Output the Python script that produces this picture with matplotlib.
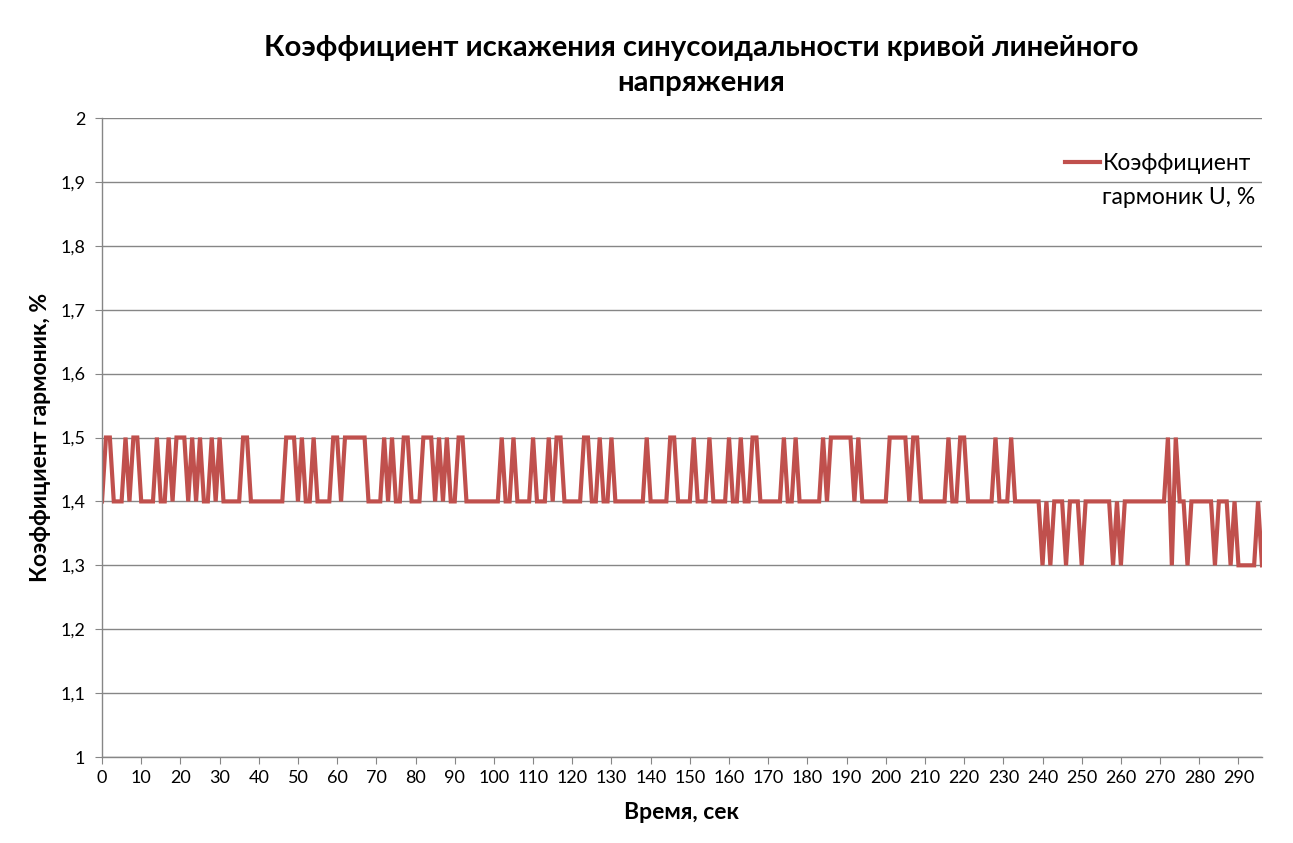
import matplotlib.pyplot as plt
from matplotlib.lines import Line2D
from matplotlib.ticker import MultipleLocator, FuncFormatter

plt.rcParams['font.family'] = ['Lato', 'DejaVu Sans']

# seconds 0..296, values
thd_u = [
    1.4, 1.5, 1.5, 1.4, 1.4, 1.4, 1.5, 1.4, 1.5, 1.5, 1.4, 1.4, 1.4, 1.4, 1.5, 1.4, 1.4, 1.5, 1.4, 1.5,
    1.5, 1.5, 1.4, 1.5, 1.4, 1.5, 1.4, 1.4, 1.5, 1.4, 1.5, 1.4, 1.4, 1.4, 1.4, 1.4, 1.5, 1.5, 1.4, 1.4,
    1.4, 1.4, 1.4, 1.4, 1.4, 1.4, 1.4, 1.5, 1.5, 1.5, 1.4, 1.5, 1.4, 1.4, 1.5, 1.4, 1.4, 1.4, 1.4, 1.5,
    1.5, 1.4, 1.5, 1.5, 1.5, 1.5, 1.5, 1.5, 1.4, 1.4, 1.4, 1.4, 1.5, 1.4, 1.5, 1.4, 1.4, 1.5, 1.5, 1.4,
    1.4, 1.4, 1.5, 1.5, 1.5, 1.4, 1.5, 1.4, 1.5, 1.4, 1.4, 1.5, 1.5, 1.4, 1.4, 1.4, 1.4, 1.4, 1.4, 1.4,
    1.4, 1.4, 1.5, 1.4, 1.4, 1.5, 1.4, 1.4, 1.4, 1.4, 1.5, 1.4, 1.4, 1.4, 1.5, 1.4, 1.5, 1.5, 1.4, 1.4,
    1.4, 1.4, 1.4, 1.5, 1.5, 1.4, 1.4, 1.5, 1.4, 1.4, 1.5, 1.4, 1.4, 1.4, 1.4, 1.4, 1.4, 1.4, 1.4, 1.5,
    1.4, 1.4, 1.4, 1.4, 1.4, 1.5, 1.5, 1.4, 1.4, 1.4, 1.4, 1.5, 1.4, 1.4, 1.4, 1.5, 1.4, 1.4, 1.4, 1.4,
    1.5, 1.4, 1.4, 1.5, 1.4, 1.4, 1.5, 1.5, 1.4, 1.4, 1.4, 1.4, 1.4, 1.4, 1.5, 1.4, 1.4, 1.5, 1.4, 1.4,
    1.4, 1.4, 1.4, 1.4, 1.5, 1.4, 1.5, 1.5, 1.5, 1.5, 1.5, 1.5, 1.4, 1.5, 1.4, 1.4, 1.4, 1.4, 1.4, 1.4,
    1.4, 1.5, 1.5, 1.5, 1.5, 1.5, 1.4, 1.5, 1.5, 1.4, 1.4, 1.4, 1.4, 1.4, 1.4, 1.4, 1.5, 1.4, 1.4, 1.5,
    1.5, 1.4, 1.4, 1.4, 1.4, 1.4, 1.4, 1.4, 1.5, 1.4, 1.4, 1.4, 1.5, 1.4, 1.4, 1.4, 1.4, 1.4, 1.4, 1.4,
    1.3, 1.4, 1.3, 1.4, 1.4, 1.4, 1.3, 1.4, 1.4, 1.4, 1.3, 1.4, 1.4, 1.4, 1.4, 1.4, 1.4, 1.4, 1.3, 1.4,
    1.3, 1.4, 1.4, 1.4, 1.4, 1.4, 1.4, 1.4, 1.4, 1.4, 1.4, 1.4, 1.5, 1.3, 1.5, 1.4, 1.4, 1.3, 1.4, 1.4,
    1.4, 1.4, 1.4, 1.4, 1.3, 1.4, 1.4, 1.4, 1.3, 1.4, 1.3, 1.3, 1.3, 1.3, 1.3, 1.4, 1.3,
]
seconds = list(range(len(thd_u)))

title = "Коэффициент искажения синусоидальности кривой линейного\nнапряжения"
x_label = "Время, сек"
y_label = "Коэффициент гармоник, %"
series_label = ["Коэффициент", "гармоник U, %"]

fig = plt.figure(figsize=(12.93, 8.43), dpi=100)
ax = fig.add_axes([0.0789, 0.102, 0.8971, 0.758])

line, = ax.plot(seconds, thd_u, color="#C0504D", linewidth=3.0,
                solid_joinstyle="miter")

ax.set_xlim(0, len(thd_u) - 1)
ax.set_ylim(1, 2)
ax.yaxis.set_major_locator(MultipleLocator(0.1))
ax.yaxis.set_major_formatter(FuncFormatter(lambda v, p: ("%.1f" % v).rstrip("0").rstrip(".").replace(".", ",")))
ax.set_xticks(range(0, 291, 10))

ax.grid(axis="y", color="#868686", linewidth=1)
ax.set_axisbelow(True)
for s in ["top", "right"]:
    ax.spines[s].set_visible(False)
for s in ["left", "bottom"]:
    ax.spines[s].set_color("#868686")
    ax.spines[s].set_linewidth(1)
ax.tick_params(axis="x", colors="#868686", labelcolor="black", length=5, labelsize=13, pad=4)
ax.tick_params(axis="y", colors="#868686", labelcolor="black", length=5, labelsize=13, pad=7)

ax.set_xlabel(x_label, fontsize=16.5, fontweight="bold", labelpad=12)
ax.set_ylabel(y_label, fontsize=16.5, fontweight="bold", labelpad=7)
fig.text(0.542, 0.922, title, fontsize=21.2, fontweight="bold", ha="center", va="center",
         linespacing=1.45)

# series name wraps onto two lines, the line sample sits next to the first one
blank = Line2D([], [], linestyle="none")
leg = ax.legend([line, blank], series_label, loc="upper left", bbox_to_anchor=(0.822, 0.959),
                frameon=False, fontsize=16.5, handlelength=1.55, handletextpad=0.1,
                borderaxespad=0, labelspacing=0.55)

fig.savefig("out.png", dpi=100)
plt.close(fig)
